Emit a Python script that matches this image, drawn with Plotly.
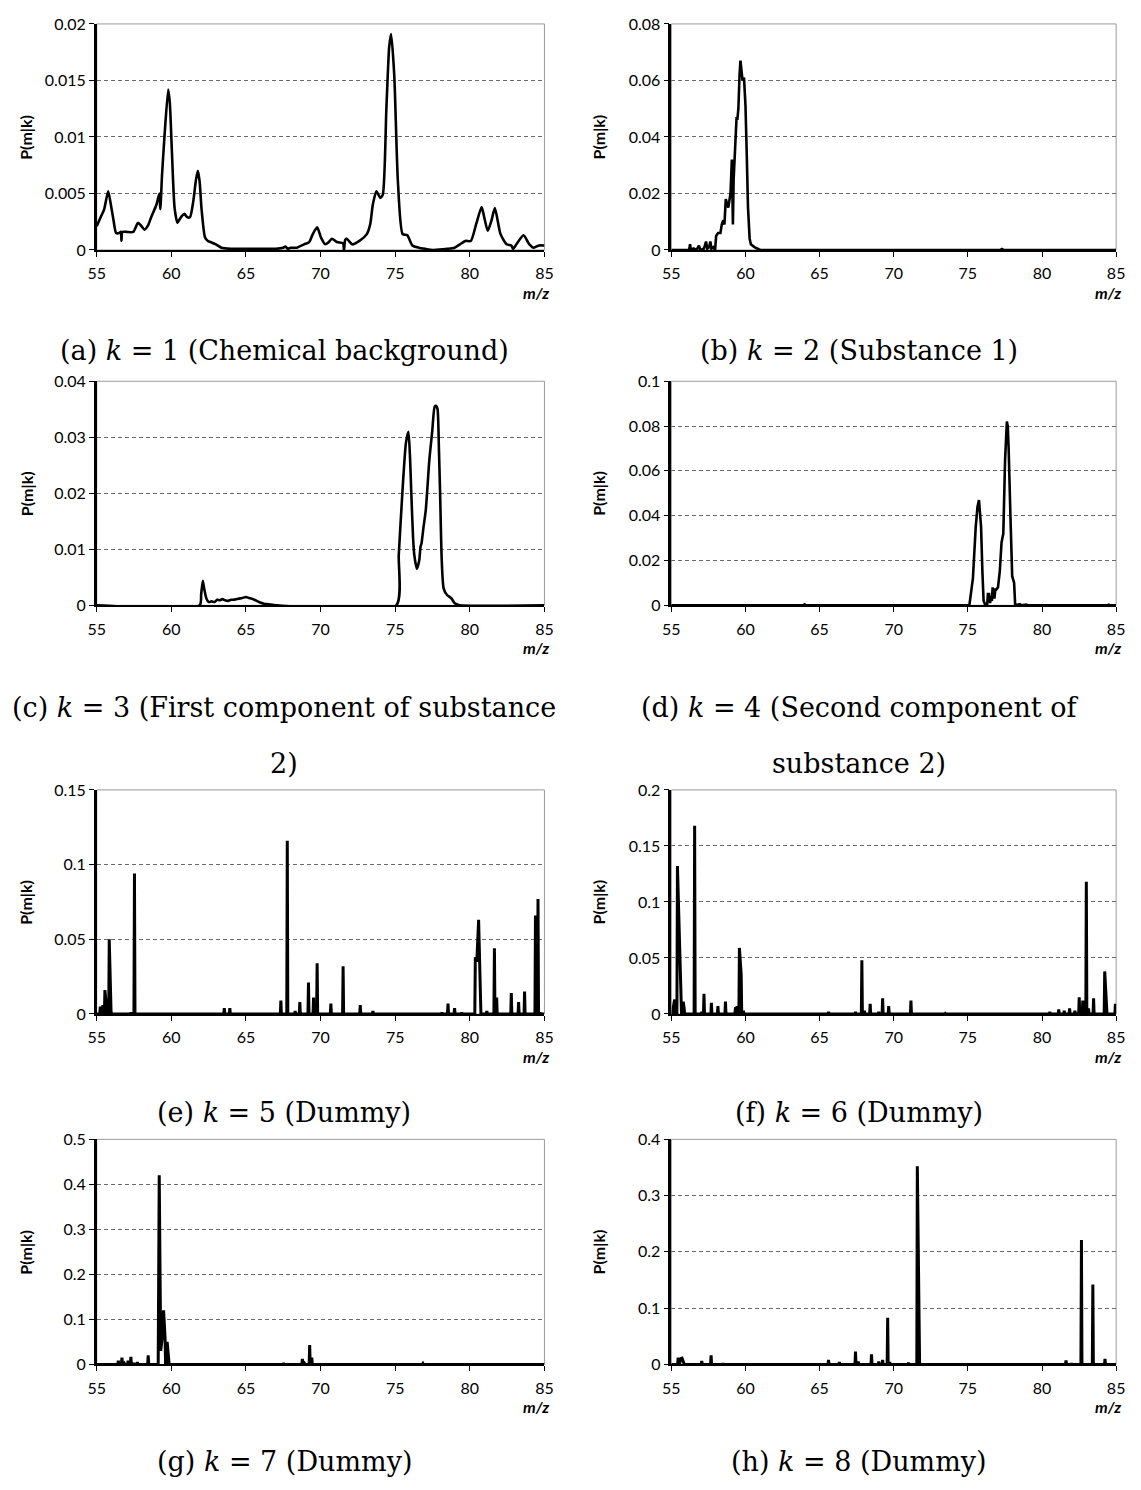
import plotly.graph_objects as go

# ---------------- data ----------------
x_tickvals = [55, 60, 65, 70, 75, 80, 85]
x_ticktext = ["55", "60", "65", "70", "75", "80", "85"]

# (a) k=1 chemical background
mz_a = [55.0, 55.3, 55.5, 55.77, 55.95, 56.13, 56.3, 56.5, 56.62, 56.66, 56.72, 57.0, 57.45, 57.77,
        58.0, 58.2, 58.45, 58.65, 59.0, 59.2, 59.26, 59.38, 59.55, 59.79, 59.9, 60.03, 60.22, 60.41,
        60.55, 60.7, 60.87, 61.06, 61.25, 61.47, 61.65, 61.78, 61.9, 62.02, 62.26, 62.45, 62.63, 62.99,
        63.35, 64.0, 65.0, 66.0, 67.0, 67.5, 67.65, 67.8, 68.0, 68.4, 68.9, 69.24, 69.48, 69.77, 70.03,
        70.32, 70.55, 70.76, 71.1, 71.5, 71.57, 71.65, 71.75, 72.13, 72.6, 73.1, 73.33, 73.5, 73.74,
        74.0, 74.17, 74.41, 74.6, 74.73, 74.94, 75.18, 75.5, 75.81, 76.15, 76.58, 77.0, 77.54, 78.5,
        78.98, 79.34, 79.7, 80.07, 80.43, 80.79, 80.95, 81.2, 81.45, 81.68, 82.06, 82.47, 82.78, 82.9,
        83.12, 83.6, 83.99, 84.28, 84.64, 85.0]
p_a = [0.0021, 0.0030, 0.0036, 0.0052, 0.0040, 0.0026, 0.0015, 0.0015, 0.0016, 0.0008, 0.0016, 0.0016,
       0.0016, 0.0024, 0.0021, 0.0018, 0.0022, 0.0029, 0.0040, 0.0050, 0.0036, 0.0067, 0.0102, 0.0142,
       0.0130, 0.0090, 0.0037, 0.0024, 0.0027, 0.0030, 0.0032, 0.0029, 0.0029, 0.0043, 0.0062, 0.0070,
       0.0060, 0.0037, 0.0011, 0.0008, 0.0007, 0.0005, 0.0002, 0.0001, 0.0001, 0.0001, 0.0001, 0.0002,
       0.0003, 0.0001, 0.0002, 0.0002, 0.0005, 0.0007, 0.0014, 0.0020, 0.0011, 0.0005, 0.0007, 0.0010,
       0.0007, 0.0006, 0.0000, 0.0009, 0.0010, 0.0005, 0.0008, 0.0014, 0.0023, 0.0040, 0.0052, 0.0046,
       0.0049, 0.0125, 0.0180, 0.0191, 0.0154, 0.0061, 0.0014, 0.0013, 0.0004, 0.0002, 0.0001, 0.0000,
       0.0001, 0.0002, 0.0005, 0.0008, 0.0008, 0.0023, 0.0038, 0.0030, 0.0017, 0.0026, 0.0037, 0.0014,
       0.0005, 0.0004, 0.0001, 0.0005, 0.0013, 0.0005, 0.0002, 0.0004, 0.0004]

# (b) k=2 substance 1
mz_b = [55.0, 56.2, 56.26, 56.32, 56.5, 56.7, 56.86, 56.95, 57.2, 57.34, 57.42, 57.55, 57.63, 57.7,
        57.83, 57.95, 58.02, 58.15, 58.31, 58.4, 58.5, 58.58, 58.67, 58.75, 58.84, 58.99, 59.08, 59.12,
        59.15, 59.2, 59.28, 59.4, 59.45, 59.52, 59.6, 59.66, 59.72, 59.8, 59.9, 60.0, 60.08, 60.17,
        60.28, 60.36, 60.6, 60.85, 61.0, 77.2, 77.3, 77.4, 85.0]
p_b = [0, 0, 0.002, 0, 0.0005, 0, 0.0015, 0, 0.0005, 0.003, 0.0005, 0.001, 0.003, 0.0005,
       0.001, 0, 0.005, 0.006, 0.006, 0.009, 0.0105, 0.009, 0.018, 0.016, 0.015, 0.020, 0.032, 0.020,
       0.009, 0.025, 0.036, 0.047, 0.046, 0.050, 0.062, 0.067, 0.064, 0.060, 0.061, 0.051, 0.035, 0.015,
       0.004, 0.002, 0.001, 0.0003, 0, 0, 0.0003, 0, 0]

# (c) k=3 first component of substance 2
mz_c = [55.0, 61.9, 62.0, 62.11, 62.2, 62.35, 62.5, 62.7, 62.9, 63.07, 63.25, 63.43, 63.6, 63.8, 64.0,
        64.16, 64.35, 64.52, 64.75, 65.0, 65.2, 65.36, 65.55, 65.72, 65.95, 66.2, 66.5, 66.8, 67.1,
        75.07, 75.24, 75.48, 75.72, 75.89, 76.0, 76.08, 76.2, 76.28, 76.45, 76.61, 76.7, 76.76, 76.9,
        77.05, 77.29, 77.48, 77.65, 77.75, 77.84, 77.93, 78.01, 78.12, 78.25, 78.49, 78.65, 78.78,
        78.95, 79.1, 79.3, 85.0]
p_c = [0, 0, 0.002, 0.0044, 0.0030, 0.0012, 0.0006, 0.0007, 0.0006, 0.0010, 0.0009, 0.0011, 0.0009,
       0.0008, 0.0010, 0.0010, 0.0011, 0.0012, 0.0013, 0.0015, 0.0013, 0.0012, 0.0010, 0.0008, 0.0005,
       0.0003, 0.0002, 0.0001, 0, 0, 0.009, 0.020, 0.029, 0.031, 0.026, 0.020, 0.012, 0.009, 0.0065,
       0.008, 0.0105, 0.011, 0.014, 0.017, 0.026, 0.031, 0.0355, 0.0356, 0.035, 0.028, 0.020, 0.008,
       0.003, 0.0018, 0.0015, 0.0012, 0.0005, 0.0002, 0, 0]

# (d) k=4 second component of substance 2
mz_d = [55.0, 63.9, 63.99, 64.08, 75.1, 75.34, 75.53, 75.65, 75.75, 75.89, 75.98, 76.06, 76.18, 76.3,
        76.35, 76.43, 76.5, 76.55, 76.62, 76.67, 76.73, 76.79, 76.85, 76.91, 77.03, 77.15, 77.27, 77.39,
        77.51, 77.63, 77.69, 77.75, 77.87, 77.95, 77.99, 78.12, 78.19, 78.5, 78.6, 78.95, 79.05, 84.4,
        84.5, 84.6, 85.0]
p_d = [0, 0, 0.0004, 0, 0, 0.012, 0.035, 0.044, 0.047, 0.035, 0.015, 0.002, 0, 0,
       0.005, 0.005, 0.001, 0.004, 0.002, 0.008, 0.006, 0.003, 0.007, 0.007, 0.008, 0.015, 0.028, 0.032,
       0.065, 0.082, 0.080, 0.070, 0.040, 0.020, 0.013, 0.010, 0, 0.0005, 0, 0.0003, 0, 0,
       0.0003, 0, 0]

# (e) k=5 dummy (peak list)
mz_e = [55.24, 55.41, 55.55, 55.67, 55.84, 55.96, 57.29, 57.53, 63.55, 63.92, 67.34, 67.77, 68.30,
        68.61, 69.19, 69.53, 69.77, 70.69, 71.51, 72.66, 73.51, 78.13, 78.54, 78.98, 79.46, 80.37,
        80.47, 80.59, 80.71, 81.14, 81.65, 81.80, 82.78, 83.27, 83.67, 84.40, 84.57, 84.71]
p_e = [0.005, 0.006, 0.016, 0.003, 0.050, 0.002, 0.001, 0.094, 0.004, 0.004, 0.009, 0.116, 0.002,
       0.008, 0.021, 0.011, 0.034, 0.007, 0.032, 0.006, 0.002, 0.001, 0.007, 0.004, 0.001, 0.038,
       0.035, 0.063, 0.003, 0.002, 0.044, 0.011, 0.014, 0.008, 0.015, 0.066, 0.077, 0.001]

# (f) k=6 dummy
mz_f = [55.12, 55.22, 55.41, 55.53, 55.65, 55.80, 55.89, 56.57, 57.05, 57.20, 57.70, 58.14, 58.65,
        59.32, 59.44, 59.59, 59.71, 59.86, 65.60, 67.42, 67.85, 68.02, 68.41, 68.99, 69.25, 69.66,
        71.16, 73.48, 80.53, 81.13, 81.50, 81.86, 82.22, 82.51, 82.75, 82.99, 83.14, 83.48, 84.23,
        84.35, 84.95]
p_f = [0.005, 0.013, 0.132, 0.076, 0.012, 0.011, 0.002, 0.168, 0.002, 0.018, 0.010, 0.007, 0.011,
       0.005, 0.006, 0.059, 0.035, 0.003, 0.002, 0.002, 0.048, 0.003, 0.009, 0.002, 0.014, 0.007,
       0.012, 0.0005, 0.002, 0.004, 0.003, 0.005, 0.003, 0.015, 0.012, 0.118, 0.005, 0.014, 0.038,
       0.002, 0.009]

# (g) k=7 dummy
mz_g = [56.45, 56.69, 56.86, 57.10, 57.29, 57.48, 57.72, 58.45, 59.12, 59.19, 59.29, 59.39, 59.48,
        59.58, 59.72, 59.82, 67.53, 67.89, 68.78, 68.93, 69.27, 69.41, 76.86]
p_g = [0.008, 0.015, 0.002, 0.008, 0.017, 0.003, 0.005, 0.020, 0.003, 0.420, 0.030, 0.060, 0.120,
       0.060, 0.050, 0.003, 0.003, 0.001, 0.012, 0.002, 0.043, 0.015, 0.002]

# (h) k=8 dummy
mz_h = [55.46, 55.60, 55.72, 55.84, 57.05, 57.68, 58.50, 65.60, 66.33, 67.42, 67.61, 68.50, 68.99,
        69.25, 69.59, 69.73, 70.99, 71.59, 71.71, 81.62, 81.98, 82.66, 83.43, 84.25]
p_h = [0.012, 0.010, 0.011, 0.002, 0.006, 0.016, 0.002, 0.008, 0.004, 0.023, 0.005, 0.018, 0.005,
       0.008, 0.083, 0.004, 0.003, 0.352, 0.005, 0.007, 0.002, 0.221, 0.142, 0.010]

# y tick values / labels per panel
yt_a = [0, 0.005, 0.01, 0.015, 0.02]; yl_a = ["0", "0.005", "0.01", "0.015", "0.02"]
yt_b = [0, 0.02, 0.04, 0.06, 0.08]; yl_b = ["0", "0.02", "0.04", "0.06", "0.08"]
yt_c = [0, 0.01, 0.02, 0.03, 0.04]; yl_c = ["0", "0.01", "0.02", "0.03", "0.04"]
yt_d = [0, 0.02, 0.04, 0.06, 0.08, 0.1]; yl_d = ["0", "0.02", "0.04", "0.06", "0.08", "0.1"]
yt_e = [0, 0.05, 0.1, 0.15]; yl_e = ["0", "0.05", "0.1", "0.15"]
yt_f = [0, 0.05, 0.1, 0.15, 0.2]; yl_f = ["0", "0.05", "0.1", "0.15", "0.2"]
yt_g = [0, 0.1, 0.2, 0.3, 0.4, 0.5]; yl_g = ["0", "0.1", "0.2", "0.3", "0.4", "0.5"]
yt_h = [0, 0.1, 0.2, 0.3, 0.4]; yl_h = ["0", "0.1", "0.2", "0.3", "0.4"]

captions = [
    ["(a) <i>k</i> = 1 (Chemical background)"],
    ["(b) <i>k</i> = 2 (Substance 1)"],
    ["(c) <i>k</i> = 3 (First component of substance", "2)"],
    ["(d) <i>k</i> = 4 (Second component of", "substance 2)"],
    ["(e) <i>k</i> = 5 (Dummy)"],
    ["(f) <i>k</i> = 6 (Dummy)"],
    ["(g) <i>k</i> = 7 (Dummy)"],
    ["(h) <i>k</i> = 8 (Dummy)"],
]


def sticks(mz, p, hw=0.035, join=0.13):
    """Stick spectrum: each peak drawn from the zero baseline."""
    xs, ys = [55.0], [0.0]
    prev = None
    for m, h in zip(mz, p):
        if prev is None or m - prev > join:
            if prev is not None:
                xs.append(prev + hw); ys.append(0.0)
            xs.append(m - hw); ys.append(0.0)
        xs.append(m); ys.append(h)
        prev = m
    xs += [prev + hw, 85.0]
    ys += [0.0, 0.0]
    return xs, ys


series = [
    (mz_a, p_a), (mz_b, p_b), (mz_c, p_c), (mz_d, p_d),
    sticks(mz_e, p_e), sticks(mz_f, p_f), sticks(mz_g, p_g), sticks(mz_h, p_h),
]
yticks = [(yt_a, yl_a), (yt_b, yl_b), (yt_c, yl_c), (yt_d, yl_d),
          (yt_e, yl_e), (yt_f, yl_f), (yt_g, yl_g), (yt_h, yl_h)]
smooth = [True, False, True, False, False, False, False, False]

# ---------------- layout geometry (page pixels) ----------------
OFF = 8                      # default <body> margin of the written page
W, H = 1141 - 2 * OFF, 1490 - 2 * OFF   # page fits the window exactly
col_px = [(89, 544), (673, 1125)]
row_px = [(14, 243), (376, 603), (790, 1017), (1144, 1372)]
cap_x = [279.5, 864]
cap_y = [[345], [345], [706, 763], [706, 763], [1117], [1117], [1470], [1470]]
ytitle_x = [17, 599]


def px(v):
    return (v - OFF) / W


def py(v):
    return 1 - (v - OFF) / H


TICK_FONT = dict(family="Lato", size=16, color="black")

fig = go.Figure()
annotations = []
shapes = []

for i in range(8):
    r, c = divmod(i, 2)
    n = "" if i == 0 else str(i + 1)
    xs, ys = series[i]
    fig.add_trace(go.Scatter(
        x=xs, y=ys, mode="lines",
        line=dict(color="black", width=2.6 if i < 4 else 3,
                  shape="spline" if smooth[i] else "linear", smoothing=0.6),
        xaxis="x" + n, yaxis="y" + n, showlegend=False, hoverinfo="x+y",
    ))
    x0, x1 = col_px[c]
    t, b = row_px[r]
    tv, tl = yticks[i]
    fig.layout["xaxis" + n] = dict(
        domain=[px(x0), px(x1)], range=[55, 85], anchor="y" + n,
        tickmode="array", tickvals=x_tickvals, ticktext=x_ticktext,
        showgrid=False, zeroline=False, showline=True, linecolor="black", linewidth=2,
        ticks="outside", ticklen=5, tickwidth=1.2, tickcolor="black",
        tickfont=TICK_FONT, ticklabelstandoff=3, fixedrange=True,
    )
    fig.layout["yaxis" + n] = dict(
        domain=[py(b), py(t)], range=[0, tv[-1]], anchor="x" + n,
        tickmode="array", tickvals=tv, ticktext=tl,
        showgrid=True, gridcolor="#6a6a6a", griddash="4px,3px", gridwidth=1,
        zeroline=False, showline=True, linecolor="black", linewidth=2.5,
        ticks="outside", ticklen=5, tickwidth=1.2, tickcolor="black",
        tickfont=TICK_FONT, fixedrange=True,
    )
    # thin plot-area frame
    shapes.append(dict(type="rect", xref="x" + n + " domain", yref="y" + n + " domain",
                       x0=0, x1=1, y0=0, y1=1, line=dict(color="#9a9a9a", width=1),
                       layer="below"))
    # y-axis title
    annotations.append(dict(
        text="<b>P(m|k)</b>", textangle=-90, xref="paper", yref="paper",
        x=px(ytitle_x[c]), y=py((t + b) / 2), showarrow=False,
        xanchor="center", yanchor="middle",
        font=dict(family="Lato", size=16, color="black"),
    ))
    # m/z label
    annotations.append(dict(
        text="<b><i>m/z</i></b>", xref="paper", yref="paper",
        x=px(x1 + 7), y=py(b + 43), showarrow=False,
        xanchor="right", yanchor="middle",
        font=dict(family="Lato", size=16, color="black"),
    ))
    # caption
    for line_txt, yy in zip(captions[i], cap_y[i]):
        annotations.append(dict(
            text=line_txt, xref="paper", yref="paper",
            x=px(cap_x[c]), y=py(yy), showarrow=False,
            xanchor="center", yanchor="middle",
            font=dict(family="DejaVu Serif", size=27, color="black"),
        ))

fig.update_layout(
    width=W, height=H, autosize=False,
    margin=dict(l=0, r=0, t=0, b=0),
    paper_bgcolor="white", plot_bgcolor="white",
    annotations=annotations, shapes=shapes, showlegend=False,
)

fig.write_html("out.html")
